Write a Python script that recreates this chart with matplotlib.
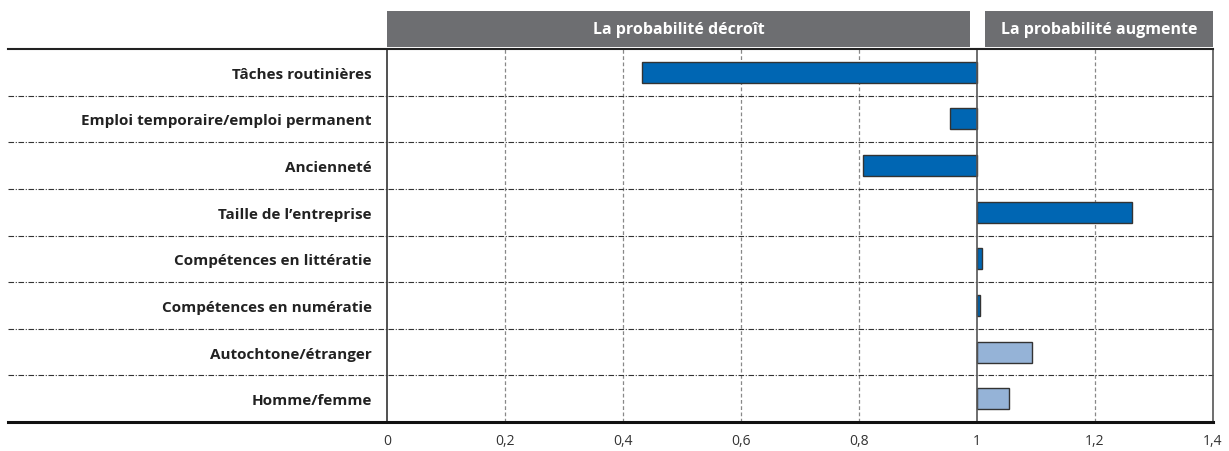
import matplotlib
matplotlib.use("Agg")
import matplotlib.pyplot as plt
from matplotlib.patches import Rectangle
from matplotlib.lines import Line2D
import matplotlib.ticker as mticker

categories = [
    "Tâches routinières",
    "Emploi temporaire/emploi permanent",
    "Ancienneté",
    "Taille de l\u2019entreprise",
    "Compétences en littératie",
    "Compétences en numératie",
    "Autochtone/étranger",
    "Homme/femme",
]
values = [0.432, 0.955, 0.807, 1.263, 1.008, 1.005, 1.093, 1.055]
significant = [True, True, True, True, True, True, False, False]
xticks = [0, 0.2, 0.4, 0.6, 0.8, 1.0, 1.2, 1.4]
header_left = "La probabilité décroît"
header_right = "La probabilité augmente"

W, H = 1229, 452
fig = plt.figure(figsize=(W / 100, H / 100), dpi=100)
ax_l, ax_r, ax_t, ax_b = 387, 1213, 50, 423
ax = fig.add_axes([ax_l / W, (H - ax_b) / H, (ax_r - ax_l) / W, (ax_b - ax_t) / H])

font = "Open Sans"
dark = "#0066b3"
light = "#95b3d7"

ys = list(range(len(categories)))
colors = [dark if s else light for s in significant]
ax.barh(ys, [v - 1 for v in values], left=1, height=0.45, color=colors,
        edgecolor="#333333", linewidth=1.0, zorder=3)

ax.set_xlim(0, 1.4)
ax.set_ylim(len(categories) - 0.5, -0.5)

# vertical grid
for x in xticks[1:-1]:
    if x == 1.0:
        ax.axvline(x, color="#555555", lw=1.2, zorder=4)
    else:
        ax.axvline(x, color="#888888", lw=0.9, ls=(0, (3, 2)), zorder=1)

# horizontal separators (extend to the left of the axes)
x_ext = (8 - ax_l) / (ax_r - ax_l)
for i in range(1, len(categories)):
    y_ax = 1 - i / len(categories)
    ax.add_line(Line2D([x_ext, 1], [y_ax, y_ax], transform=ax.transAxes,
                       color="#333333", lw=0.8, ls=(0, (5, 1.5, 1, 1.5)),
                       clip_on=False, zorder=2))
ax.add_line(Line2D([x_ext, 1], [1, 1], transform=ax.transAxes,
                   color="#222222", lw=1.5, clip_on=False, zorder=5))
ax.add_line(Line2D([x_ext, 1], [0, 0], transform=ax.transAxes,
                   color="#111111", lw=2.2, clip_on=False, zorder=5))

for s in ["top", "bottom"]:
    ax.spines[s].set_visible(False)
ax.spines["left"].set_color("#333333")
ax.spines["left"].set_linewidth(1.2)
ax.spines["right"].set_color("#555555")
ax.spines["right"].set_linewidth(1.2)

ax.set_xticks(xticks)
ax.xaxis.set_major_formatter(mticker.FuncFormatter(
    lambda v, p: ("%g" % round(v, 1)).replace(".", ",")))
ax.tick_params(axis="x", length=0, pad=8, labelsize=10, labelcolor="#333333")
for lab in ax.get_xticklabels():
    lab.set_fontfamily(font)

ax.set_yticks(ys)
ax.set_yticklabels(categories, fontfamily=font, fontweight="bold",
                   fontsize=11, color="#222222")
ax.tick_params(axis="y", length=0, pad=11)

# header boxes
tr = ax.get_xaxis_transform()
box_y0 = 1 + (ax_t - 48) / (ax_b - ax_t)
box_y1 = 1 + (ax_t - 12) / (ax_b - ax_t)
boxes = [(0.0, (970 - ax_l) / 590, header_left),
         ((985 - ax_l) / 590, 1.4, header_right)]
for x0, x1, txt in boxes:
    ax.add_patch(Rectangle((x0, box_y0), x1 - x0, box_y1 - box_y0, transform=tr,
                           facecolor="#6d6e71", edgecolor="none", clip_on=False))
    ax.text((x0 + x1) / 2, (box_y0 + box_y1) / 2, txt, transform=tr,
            ha="center", va="center", color="white", fontweight="bold",
            fontsize=11.5, fontfamily=font)

fig.savefig("out.png", dpi=100)
